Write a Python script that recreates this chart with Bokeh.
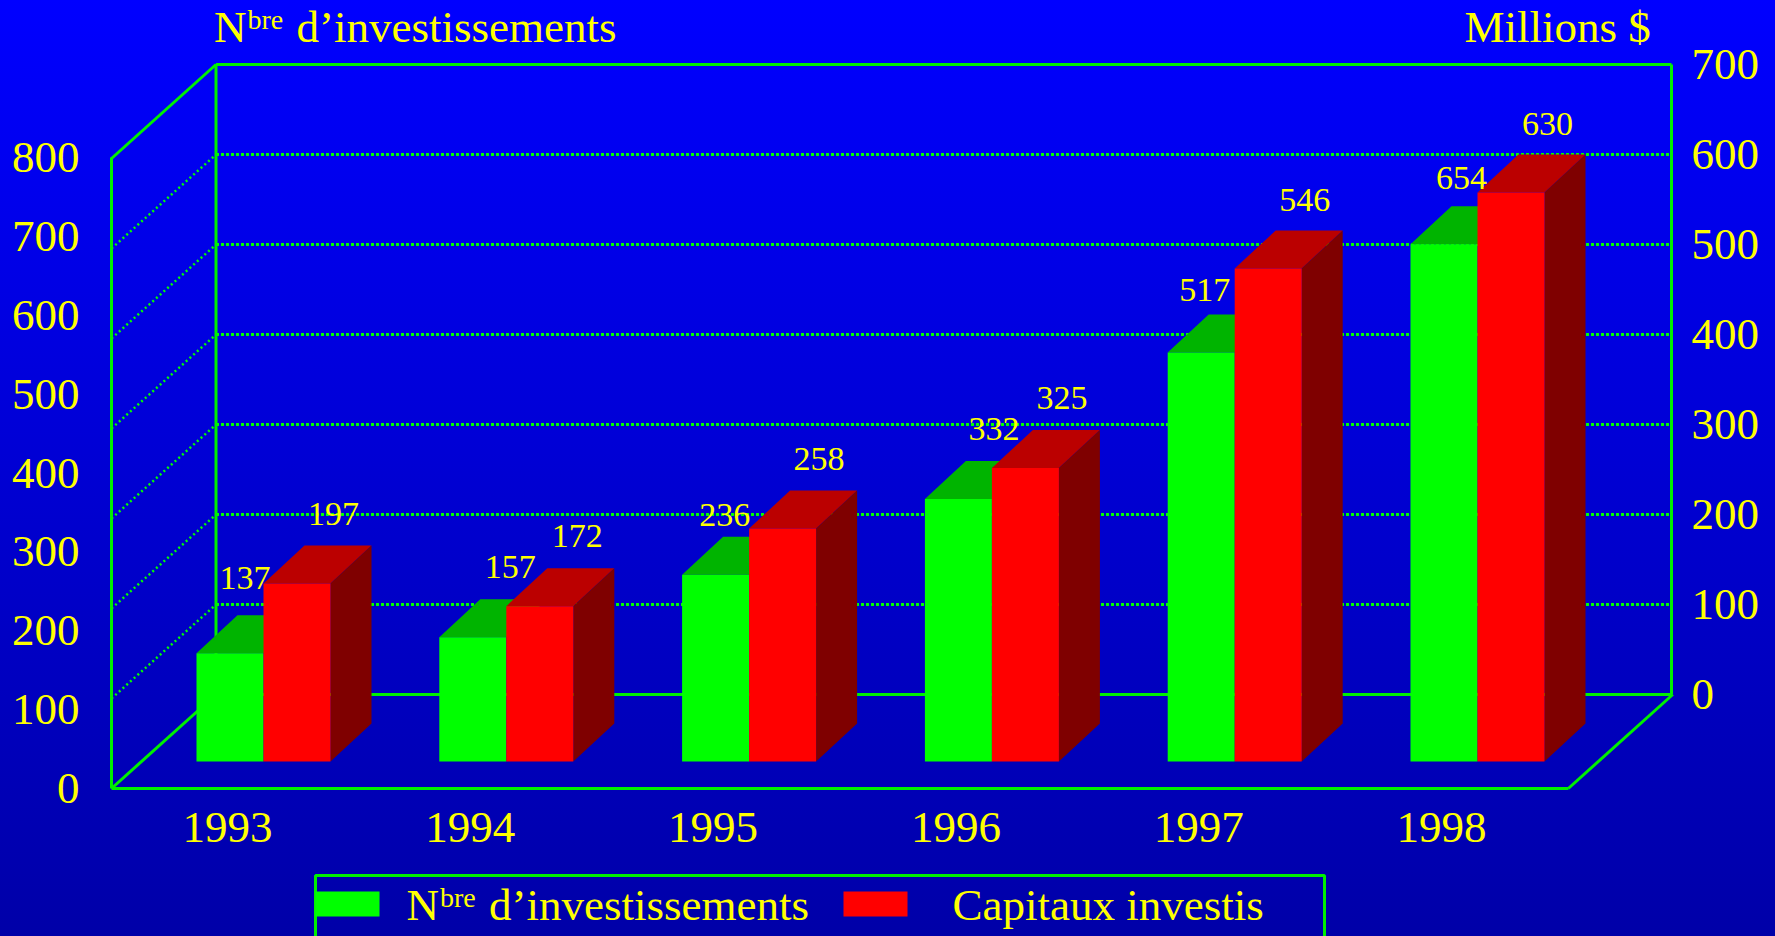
from bokeh.embed import file_html
from bokeh.resources import INLINE
from bokeh.plotting import figure
from bokeh.models import Range1d, LinearAxis, FixedTicker, Label
from bokeh.core.properties import value

# ---- data
YEARS = [1993, 1994, 1995, 1996, 1997, 1998]
NBRE = [137, 157, 236, 332, 517, 654]
CAPITAUX = [197, 172, 258, 325, 546, 630]
LEFT_TICKS = [0, 100, 200, 300, 400, 500, 600, 700, 800]
RIGHT_TICKS = [0, 100, 200, 300, 400, 500, 600, 700]
NBRE_LABEL_DX = [48.5, 71, 42.6, 69, 37, 51]
NBRE_LABEL_DY = [-75, -70, -60, -70, -63, -66]
CAP_LABEL_DX = [70, 71, 70, 70, 70, 70]
CAP_LABEL_DY = [-70, -70, -70, -70, -68, -69]

# ---- page geometry (pixels)
W, H = 1775, 936
FL, FR, FT, FB = 111, 1671, 64, 788
PX_YEAR = 242.8
K_LEFT = 631 / 800
K_RIGHT = 0.9
K_BAR_LEFT = 0.791
K_BAR_RIGHT = 0.903
WALL_DX, WALL_DY = 104.5, 94      # depth of the chart box
BAR_DX, BAR_DY = 41, 38           # depth of a bar
BASE_PX = 761                     # y of the bars' foot
BACK_ZERO_PX = 694
BAR_W = 67
BAR_L = -31                       # green bar's left, relative to the year tick
TICK_1993 = 227

x_at = lambda px: 1993 + (px - TICK_1993) / PX_YEAR
x0 = x_at(FL)
x1 = x_at(FR)
xfront = x0 + 6
dx_wall = WALL_DX / PX_YEAR

GREEN, RED = "#00FF00", "#FF0000"
GREEN_TOP, RED_TOP, RED_SIDE = "#00B400", "#BB0000", "#7F0000"
LINE, YELLOW = "#00F000", "#FFFF00"
FONT = "Liberation Serif"

# the frame fills the page; the axes are pinned inside it with fixed_location
p = figure(width=W, height=H, output_backend="svg", toolbar_location=None,
           x_range=Range1d(x_at(0), x_at(W)),
           y_range=Range1d(-(H - FB) / K_LEFT, FB / K_LEFT),
           min_border=0)
p.background_fill_alpha = 0
p.border_fill_alpha = 0
p.outline_line_color = None
p.grid.visible = False


def yrange(zero_px, k):
    return Range1d(-(H - zero_px) / k, zero_px / k)


p.extra_y_ranges = {
    "right": yrange(BACK_ZERO_PX, K_RIGHT),
    "bars_left": yrange(BASE_PX, K_BAR_LEFT),
    "bars_right": yrange(BASE_PX, K_BAR_RIGHT),
    "page": Range1d(H, 0),
}


def style(ax, standoff):
    ax.axis_line_color = LINE
    ax.axis_line_width = 3
    ax.major_tick_line_color = None
    ax.minor_tick_line_color = None
    ax.major_label_text_color = YELLOW
    ax.major_label_text_font = FONT
    ax.major_label_text_font_size = "45px"
    ax.major_label_standoff = standoff


xa = p.xaxis[0]
xa.ticker = FixedTicker(ticks=YEARS)
xa.bounds = (x0, xfront)
xa.fixed_location = 0
style(xa, 18)
ya = p.yaxis[0]
ya.ticker = FixedTicker(ticks=LEFT_TICKS)
ya.bounds = (0, 800)
ya.fixed_location = x0
style(ya, 26)
ra = LinearAxis(y_range_name="right", ticker=FixedTicker(ticks=RIGHT_TICKS), bounds=(0, 700),
                fixed_location=x1)
style(ra, 14)
p.add_layout(ra, "right")

# ---- box: back wall and side wall
back_left = x0 + dx_wall
wall_dy = WALL_DY / K_RIGHT
inner = RIGHT_TICKS[1:-1]
edges = [RIGHT_TICKS[0], RIGHT_TICKS[-1]]
p.segment(x0=[back_left] * len(inner), x1=[x1] * len(inner), y0=inner, y1=inner,
          y_range_name="right", line_color=GREEN, line_width=3, line_dash="3 2")
p.segment(x0=[x0] * len(inner), x1=[back_left] * len(inner),
          y0=[v - wall_dy for v in inner], y1=inner,
          y_range_name="right", line_color=GREEN, line_width=2.5, line_dash="2 3")
p.segment(x0=[back_left] * 2, x1=[x1] * 2, y0=edges, y1=edges,
          y_range_name="right", line_color=LINE, line_width=3)
p.segment(x0=[x0] * 2, x1=[back_left] * 2, y0=[v - wall_dy for v in edges], y1=edges,
          y_range_name="right", line_color=LINE, line_width=3)
p.segment(x0=[back_left], x1=[back_left], y0=[edges[0]], y1=[edges[1]],
          y_range_name="right", line_color=LINE, line_width=3)
p.segment(x0=[xfront], x1=[xfront + dx_wall], y0=[-wall_dy], y1=[0],
          y_range_name="right", line_color=LINE, line_width=3)

# ---- bars
bw = BAR_W / PX_YEAR
bdx = BAR_DX / PX_YEAR
gl = [y + BAR_L / PX_YEAR for y in YEARS]
gr = [x + bw for x in gl]
rr = [x + bw for x in gr]
gdy = BAR_DY / K_BAR_LEFT
rdy = BAR_DY / K_BAR_RIGHT

p.patches(xs=[[a, b, b + bdx, a + bdx] for a, b in zip(gl, gr)],
          ys=[[v, v, v + gdy, v + gdy] for v in NBRE],
          y_range_name="bars_left", fill_color=GREEN_TOP, line_color=None)
p.quad(left=gl, right=gr, bottom=0, top=NBRE, y_range_name="bars_left",
       fill_color=GREEN, line_color=None)
p.patches(xs=[[a, b, b + bdx, a + bdx] for a, b in zip(gr, rr)],
          ys=[[v, v, v + rdy, v + rdy] for v in CAPITAUX],
          y_range_name="bars_right", fill_color=RED_TOP, line_color=None)
p.patches(xs=[[b, b + bdx, b + bdx, b] for b in rr],
          ys=[[0, rdy, v + rdy, v] for v in CAPITAUX],
          y_range_name="bars_right", fill_color=RED_SIDE, line_color=None)
p.quad(left=gr, right=rr, bottom=0, top=CAPITAUX, y_range_name="bars_right",
       fill_color=RED, line_color=None)

# ---- value labels
p.text(x=gl, y=NBRE, text=[str(v) for v in NBRE], x_offset=NBRE_LABEL_DX, y_offset=NBRE_LABEL_DY,
       y_range_name="bars_left", text_color=YELLOW, text_font=value(FONT), text_font_size="34px",
       text_align="center", text_baseline="middle")
p.text(x=gr, y=CAPITAUX, text=[str(v) for v in CAPITAUX], x_offset=CAP_LABEL_DX, y_offset=CAP_LABEL_DY,
       y_range_name="bars_right", text_color=YELLOW, text_font=value(FONT), text_font_size="34px",
       text_align="center", text_baseline="middle")


# ---- free texts: positions are page pixels (Label sets the baseline a third of an em low)
def text(s, px, py, size=45):
    p.add_layout(Label(x=px, y=H - py + size / 3, x_units="screen", y_units="screen", text=s,
                       text_color=YELLOW, text_font=FONT, text_font_size=f"{size}px",
                       text_baseline="alphabetic", text_align="left"))


def nbre(px, base):
    text("N", px, base)
    text("bre", px + 33.5, base - 13, 28)
    text("d\u2019investissements", px + 82.5, base)


nbre(213.5, 41.7)
text("Millions $", 1464, 41.7)

# ---- legend, cut by the page's lower edge
LX = [x_at(315), x_at(1324)]
p.line(x=[LX[0], LX[0], LX[1], LX[1]], y=[990, 875, 875, 990], y_range_name="page",
       line_color=LINE, line_width=3)
p.quad(left=[x_at(315), x_at(843)], right=[x_at(379), x_at(907)], top=[891, 891], bottom=[916, 916],
       y_range_name="page", fill_color=[GREEN, RED], line_color=None)
nbre(406, 919)
text("Capitaux investis", 952, 919)

css = ("<style>html,body{margin:0;padding:0;overflow:hidden;height:100%;"
       "background:linear-gradient(#0000FF,#0000A8);}</style>")
html = file_html(p, INLINE).replace("</head>", css + "</head>", 1)
open("out.html", "w").write(html)
